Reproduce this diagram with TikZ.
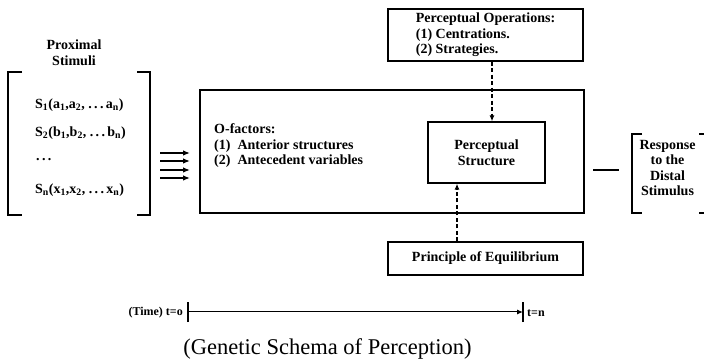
\documentclass[tikz,border=0pt]{standalone}
\usepackage{fontspec}
\setmainfont{Liberation Serif}
\usetikzlibrary{arrows.meta}
\begin{document}
\begin{tikzpicture}[x=1pt,y=-1pt,
  lbl/.style={font=\fontsize{14}{15.5}\selectfont\bfseries, inner sep=0pt},
  small/.style={font=\fontsize{12}{13}\selectfont\bfseries, inner sep=0pt},
  boxn/.style={draw, line width=1.3pt, inner sep=0pt},
  dsh/.style={line width=1.3pt, dash pattern=on 4pt off 2.5pt, -{Latex[length=6pt,width=5pt]}},
  brk/.style={line width=1.7pt},
  plain/.style={line width=1.3pt},
  inarr/.style={line width=1.3pt, -{Latex[length=7pt,width=5.5pt]}}]
\useasboundingbox (0,0) rectangle (704,363);

% Proximal stimuli
\node[lbl, align=center] (prox) at (74,52.5) {Proximal\\Stimuli};
\draw[brk] (22,72) -- (8,72) -- (8,215) -- (22,215);
\draw[brk] (137,72) -- (150,72) -- (150,215) -- (137,215);
\node[lbl, anchor=west] (s1) at (35,105) {S\textsubscript{1}(a\textsubscript{1},a\textsubscript{2}, .\,.\,.\,a\textsubscript{n})};
\node[lbl, anchor=west] (s2) at (35,133) {S\textsubscript{2}(b\textsubscript{1},b\textsubscript{2}, .\,.\,.\,b\textsubscript{n})};
\node[lbl, anchor=west] (s3) at (36,160) {.\,.\,.};
\node[lbl, anchor=west] (sn) at (35,190) {S\textsubscript{n}(x\textsubscript{1},x\textsubscript{2}, .\,.\,.\,x\textsubscript{n})};

% input arrows
\foreach \yy in {153,161,170,178} {
  \draw[inarr] (160,\yy) -- (190,\yy);
}

% O box
\node[boxn, minimum width=384pt, minimum height=123pt] (big) at (392,151.5) {};
\node[lbl, align=left, anchor=west] (of) at (214,146) {O-factors:\\(1)\ \ Anterior structures\\(2)\ \ Antecedent variables};

% perceptual structure
\node[boxn, lbl, minimum width=117pt, minimum height=61pt, align=center] (ps) at (486.5,152.5) {Perceptual\\[1pt]Structure};

% perceptual operations
\node[boxn, lbl, minimum width=195pt, minimum height=52pt, align=left] (po) at (485.5,35) {Perceptual Operations:\\(1) Centrations.\\(2) Strategies.};

% principle of equilibrium
\node[boxn, lbl, minimum width=195pt, minimum height=33pt] (pe) at (485.5,258.5) {Principle of Equilibrium};

\coordinate (ax1) at (492,0);
\coordinate (ax2) at (457,0);
\draw[dsh] (po.south -| ax1) -- (ps.north -| ax1);
\draw[dsh] (pe.north -| ax2) -- (ps.south -| ax2);

% response
\coordinate (d1) at (593,170);
\coordinate (d2) at (619,170);
\draw[plain] (d1) -- (d2);
\draw[brk] (642,134) -- (632,134) -- (632,213) -- (642,213);
\draw[brk] (699,134) -- (704.5,134) -- (704.5,213) -- (699,213);
\node[lbl, align=center] (resp) at (667.5,168) {Response\\to the\\Distal\\Stimulus};

% time line
\node[small, anchor=east] (t0) at (183,313) {(Time) t=o};
\node[small, anchor=west] (tn) at (527,313) {t=n};
\coordinate (ta) at (188,312);
\coordinate (tb) at (523,312);
\draw[plain] ([yshift=-10pt]ta) -- ([yshift=10pt]ta);
\draw[plain] ([yshift=-10pt]tb) -- ([yshift=10pt]tb);
\draw[line width=1pt, -{Latex[length=6pt,width=5pt]}] (ta) -- (tb);

% caption
\node[font=\fontsize{22.5}{26}\selectfont, inner sep=0pt] (cap) at (327.5,349) {(Genetic Schema of Perception)};
\end{tikzpicture}
\end{document}
